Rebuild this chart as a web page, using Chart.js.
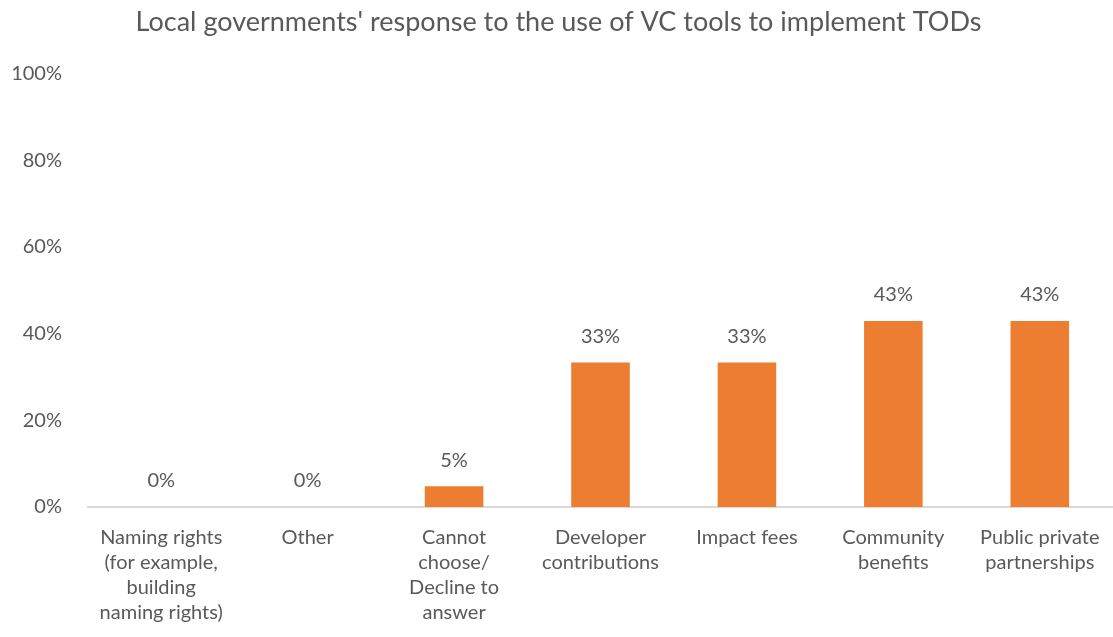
<!DOCTYPE html>
<html>
<head>
<meta charset="utf-8">
<script src="https://cdn.jsdelivr.net/npm/chart.js@4"></script>
<style>
  html, body { margin: 0; padding: 0; background: #ffffff; }
  #wrap { width: 1113px; height: 637px; position: relative; }
</style>
</head>
<body>
<div id="wrap"><canvas id="c" width="1113" height="637"></canvas></div>
<script>
const categories = [
  ["Naming rights", "(for example,", "building", "naming rights)"],
  ["Other"],
  ["Cannot", "choose/", "Decline to", "answer"],
  ["Developer", "contributions"],
  ["Impact fees"],
  ["Community", "benefits"],
  ["Public private", "partnerships"]
];
const values = [0, 0, 4.8, 33.3, 33.3, 42.9, 42.9];
const valueLabels = ["0%", "0%", "5%", "33%", "33%", "43%", "43%"];
const yTicks = [0, 20, 40, 60, 80, 100];
const titleText = "Local governments' response to the use of VC tools to implement TODs";

const FONT = "Lato, 'Open Sans', sans-serif";
const GREY = "#595959";

const labelPlugin = {
  id: 'valueLabels',
  afterDatasetsDraw(chart) {
    const ctx = chart.ctx;
    const meta = chart.getDatasetMeta(0);
    ctx.save();
    ctx.font = "20px " + FONT;
    ctx.fillStyle = GREY;
    ctx.textAlign = 'center';
    ctx.textBaseline = 'middle';
    meta.data.forEach((bar, i) => {
      ctx.fillText(valueLabels[i], bar.x, bar.y - 26);
    });
    ctx.restore();
  }
};

new Chart(document.getElementById('c'), {
  type: 'bar',
  data: {
    labels: categories,
    datasets: [{
      data: values,
      backgroundColor: '#ED7D31',
      borderWidth: 0,
      barPercentage: 0.4,
      categoryPercentage: 1.0
    }]
  },
  options: {
    responsive: false,
    animation: false,
    layout: { padding: { left: 0, right: -4, top: 0, bottom: 0 } },
    plugins: {
      legend: { display: false },
      tooltip: { enabled: false },
      title: {
        display: true,
        text: titleText,
        color: GREY,
        font: { family: FONT, size: 27, weight: 'normal' },
        padding: { top: 6, bottom: 35 }
      }
    },
    scales: {
      x: {
        grid: { display: false, drawTicks: false },
        border: { display: true, color: '#d9d9d9', width: 2 },
        ticks: {
          color: GREY,
          font: { family: FONT, size: 20, lineHeight: 1.25 },
          padding: 18,
          maxRotation: 0,
          autoSkip: false
        },
        afterFit(scale) {
          scale.height = 130;
          scale.paddingLeft = 0;
          scale.paddingRight = 0;
        }
      },
      y: {
        min: 0,
        max: 100,
        grid: { display: false, drawTicks: false },
        border: { display: false },
        afterBuildTicks(scale) { scale.ticks = yTicks.map(v => ({ value: v })); },
        ticks: {
          color: GREY,
          font: { family: FONT, size: 20 },
          padding: 26,
          callback: v => v + '%'
        },
        afterFit(scale) { scale.width = 88; }
      }
    }
  },
  plugins: [labelPlugin]
});
</script>
</body>
</html>
